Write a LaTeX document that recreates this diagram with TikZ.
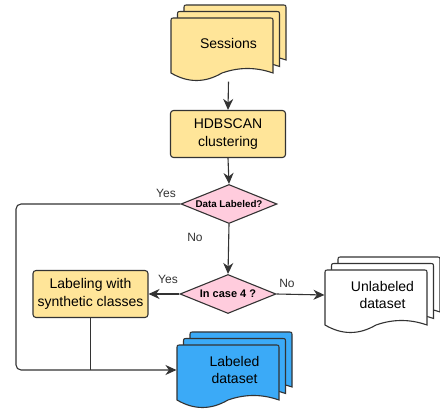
\documentclass[tikz,border=0pt]{standalone}
\usepackage{fontspec}
\setmainfont{Liberation Sans}
\usepackage{tikz}
\usetikzlibrary{shapes}
\usetikzlibrary{arrows.meta}
\definecolor{boxyellow}{RGB}{255,229,153}
\definecolor{decpink}{RGB}{255,204,221}
\definecolor{docblue}{RGB}{59,170,247}
\definecolor{linegray}{RGB}{51,51,51}
\tikzset{
  process/.style={rectangle,rounded corners=3,draw=linegray,fill=boxyellow,line width=1.1pt,
    minimum width=115,minimum height=47,inner sep=0pt,align=center,font=\fontsize{14}{17.5}\selectfont},
  decision/.style={diamond,draw=linegray,fill=decpink,line width=1.1pt,
    minimum width=96,minimum height=39,inner sep=0pt,font=\bfseries},
  docline/.style={draw=linegray,line width=1.1pt},
  doctext/.style={minimum width=115,minimum height=76,inner sep=0pt,align=center,
    font=\fontsize{14}{17.5}\selectfont},
  lbl/.style={font=\fontsize{12}{14}\selectfont,text=linegray}
}
% stack of three documents: name, top-left of front sheet, fill, text
\newcommand\docstack[5]{%
  \foreach \k in {2,1,0}{
    \begin{scope}[shift={(#2+6.5*\k,#3-6.5*\k)}]
      \draw[docline,fill=#4] (0,55) -- (0,4) .. controls (0,0) .. (4,0) -- (98,0)
        .. controls (102,0) .. (102,4) -- (102,55)
        .. controls (85,49) and (68,49) .. (51,55)
        .. controls (34,65) and (17,65) .. (0,55) -- cycle;
    \end{scope}}
  \node[doctext] (#1) at (#2+57.5,#3+25) {#5};}

\begin{document}
\begin{tikzpicture}[x=1pt,y=-1pt,line width=1.1pt,draw=linegray,
        >={Stealth[length=11pt,width=10pt,inset=3.5pt]}]
  \useasboundingbox (0,0) rectangle (440,409);

  \docstack{sessions}{171}{18}{boxyellow}{Sessions}
  \node[process] (hdb) at (228,134) {HDBSCAN\\clustering};
  \node[decision] (dl) at (229,204) {\fontsize{9.8}{11}\selectfont\makebox[0pt]{Data Labeled?}};
  \node[decision] (incase) at (228,294) {\fontsize{11}{13}\selectfont\makebox[0pt]{In case 4 ?}};
  \node[process] (synth) at (90.5,294) {Labeling with\\synthetic classes};
  \docstack{unlab}{325}{270}{white}{Unlabeled\\dataset}
  \docstack{labeled}{177}{345}{docblue}{Labeled\\dataset}
  \coordinate (leftrail) at (16,0);

  \draw[->] (sessions.south) -- (hdb.north);
  \draw[->] (hdb.south) -- (dl.north);
  \draw[->] (dl.south) -- (incase.north);
  \draw[->] (incase.east) -- (unlab.west);
  \draw[->] (incase.west) -- (synth.east);
  \draw[->,rounded corners=5] (dl.west) -- (dl.west -| leftrail) |- (labeled.west);
  \draw (synth.south) -- (synth.south |- labeled.west);

  \node[lbl] (yes1) at (166,193) {Yes};
  \node[lbl] (no1) at (195,237) {No};
  \node[lbl] (yes2) at (168,279) {Yes};
  \node[lbl] (no2) at (287,283) {No};
\end{tikzpicture}
\end{document}
